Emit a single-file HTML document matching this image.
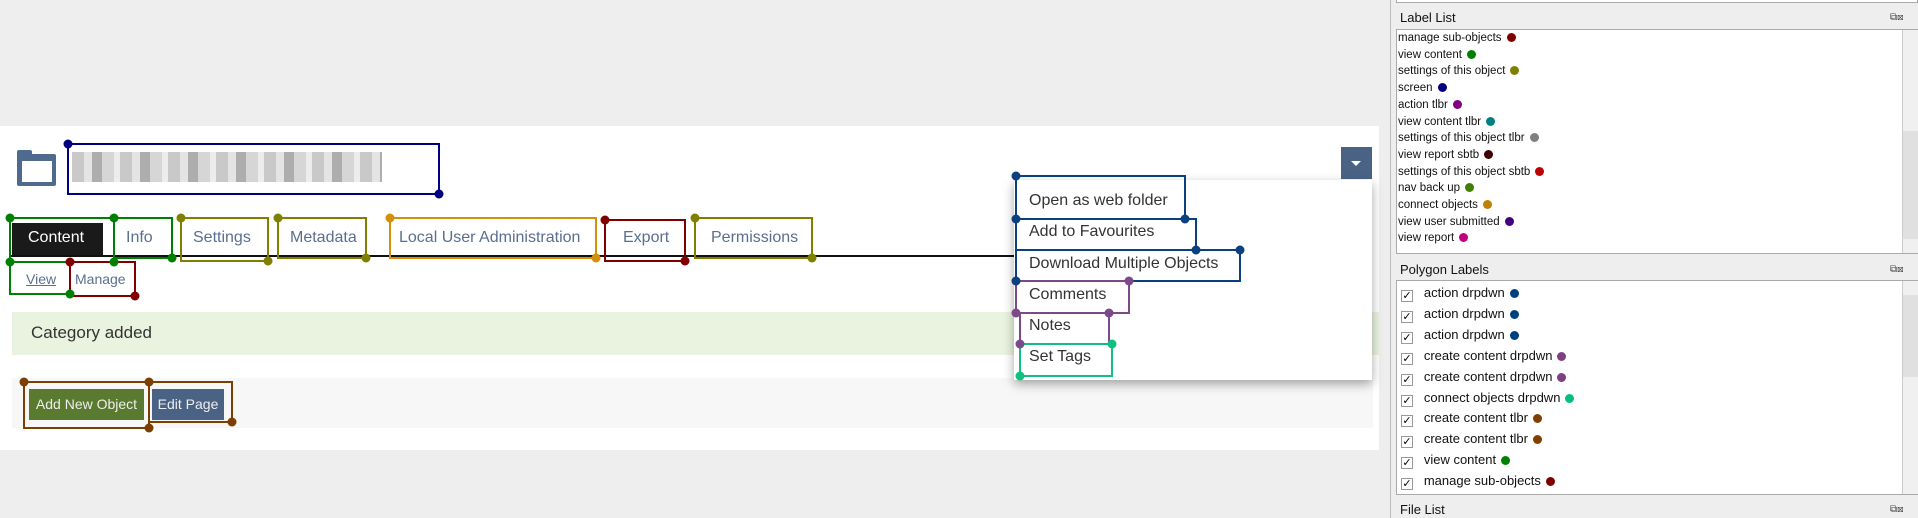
<!DOCTYPE html>
<html><head><meta charset="utf-8"><style>
*{margin:0;padding:0;box-sizing:border-box}
body{width:1918px;height:518px;background:#eeeeee;position:relative;overflow:hidden;font-family:"Liberation Sans",sans-serif}
.a{position:absolute;white-space:nowrap}
.tab{font-size:16px;color:#5a6f90}
.dd{font-size:16px;color:#333}
.ll{font-size:11.5px;color:#111;line-height:16.7px}
.pl{font-size:13px;color:#111}
.dot{display:inline-block;width:9px;height:9px;border-radius:50%;margin-left:5px;vertical-align:-1px}
.cb{position:absolute;width:12px;height:12px;border:1px solid #999;background:#fff;font-size:11px;line-height:10px;text-align:center;color:#000}
</style></head><body>
<div class="a" style="left:0;top:126px;width:1379px;height:324px;background:#fff"></div>
<div class="a" style="left:17px;top:150px;width:15px;height:6px;background:#4f6a8f;border-radius:2px 2px 0 0"></div>
<div class="a" style="left:17px;top:154px;width:39px;height:32px;background:#4f6a8f;border-radius:2px"></div>
<div class="a" style="left:22px;top:161px;width:30px;height:21px;background:#fff"></div>
<div class="a" style="left:72px;top:152px;width:310px;height:30px;background:repeating-linear-gradient(90deg,#bbb 0 12px,#ddd 12px 20px,#999 20px 30px,#ccc 30px 42px,#e8e8e8 42px 48px);opacity:.8"></div>
<div class="a" style="left:1341px;top:147px;width:31px;height:32px;background:#4a6385"></div>
<div class="a" style="left:1351px;top:161px;width:0;height:0;border-left:5px solid transparent;border-right:5px solid transparent;border-top:5px solid #fff"></div>
<div class="a" style="left:12px;top:223px;width:91px;height:33px;background:#1a1a1a"></div>
<div class="a" style="left:10px;top:255px;width:1006px;height:2px;background:#111"></div>
<div class="a tab" style="left:28px;top:229px;color:#fff">Content</div>
<div class="a tab" style="left:126px;top:229px">Info</div>
<div class="a tab" style="left:193px;top:229px">Settings</div>
<div class="a tab" style="left:290px;top:229px">Metadata</div>
<div class="a tab" style="left:399px;top:229px">Local User Administration</div>
<div class="a tab" style="left:623px;top:229px">Export</div>
<div class="a tab" style="left:711px;top:229px">Permissions</div>
<div class="a" style="left:26px;top:271px;font-size:14px;color:#5a6f90;text-decoration:underline">View</div>
<div class="a" style="left:75px;top:271px;font-size:14px;color:#5a6f90">Manage</div>
<div class="a" style="left:12px;top:312px;width:1367px;height:43px;background:#eaf3e0"></div>
<div class="a" style="left:31px;top:323px;font-size:17px;color:#333">Category added</div>
<div class="a" style="left:12px;top:378px;width:1361px;height:50px;background:#f7f7f7"></div>
<div class="a" style="left:29px;top:389px;width:115px;height:31px;background:#5a7a30;color:#eee;font-size:14px;line-height:31px;text-align:center">Add New Object</div>
<div class="a" style="left:152px;top:389px;width:72px;height:31px;background:#4a6385;color:#eee;font-size:14px;line-height:31px;text-align:center">Edit Page</div>
<div class="a" style="left:1014px;top:180px;width:358px;height:200px;background:#fff;box-shadow:0 4px 10px rgba(0,0,0,.35)"></div>
<div class="a dd" style="left:1029px;top:192px">Open as web folder</div>
<div class="a dd" style="left:1029px;top:223px">Add to Favourites</div>
<div class="a dd" style="left:1029px;top:255px">Download Multiple Objects</div>
<div class="a dd" style="left:1029px;top:286px">Comments</div>
<div class="a dd" style="left:1029px;top:317px">Notes</div>
<div class="a dd" style="left:1029px;top:348px">Set Tags</div>
<svg class="a" style="left:0;top:0" width="1918" height="518">
<g fill="none" stroke-width="2">
<rect x="68" y="144" width="371" height="50" stroke="#000080"/>
<rect x="10" y="218" width="104" height="44" stroke="#008000"/>
<rect x="114" y="218" width="58" height="40" stroke="#008000"/>
<rect x="181" y="218" width="87" height="43" stroke="#808000"/>
<rect x="278" y="218" width="88" height="40" stroke="#808000"/>
<rect x="390" y="218" width="206" height="40" stroke="#d4900a"/>
<rect x="605" y="220" width="80" height="41" stroke="#800000"/>
<rect x="695" y="218" width="117" height="40" stroke="#808000"/>
<rect x="10" y="262" width="60" height="32" stroke="#008000"/>
<rect x="70" y="262" width="65" height="34" stroke="#800000"/>
<rect x="24" y="382" width="125" height="46" stroke="#7b3f00"/>
<rect x="149" y="382" width="83" height="40" stroke="#7b3f00"/>
<rect x="1016" y="176" width="169" height="43" stroke="#0a4080"/>
<rect x="1016" y="219" width="180" height="31" stroke="#0a4080"/>
<rect x="1016" y="250" width="224" height="31" stroke="#0a4080"/>
<rect x="1016" y="281" width="113" height="32" stroke="#7b4a8a"/>
<rect x="1020" y="313" width="89" height="31" stroke="#7b4a8a"/>
<rect x="1020" y="344" width="92" height="32" stroke="#10c080"/>
</g>
<g>
<circle cx="68" cy="144" r="4.5" fill="#000080"/><circle cx="439" cy="194" r="4.5" fill="#000080"/>
<circle cx="10" cy="218" r="4.5" fill="#008000"/><circle cx="114" cy="262" r="4.5" fill="#008000"/>
<circle cx="114" cy="218" r="4.5" fill="#008000"/><circle cx="172" cy="258" r="4.5" fill="#008000"/>
<circle cx="181" cy="218" r="4.5" fill="#808000"/><circle cx="268" cy="261" r="4.5" fill="#808000"/>
<circle cx="278" cy="218" r="4.5" fill="#808000"/><circle cx="366" cy="258" r="4.5" fill="#808000"/>
<circle cx="390" cy="218" r="4.5" fill="#d4900a"/><circle cx="596" cy="258" r="4.5" fill="#d4900a"/>
<circle cx="605" cy="220" r="4.5" fill="#800000"/><circle cx="685" cy="261" r="4.5" fill="#800000"/>
<circle cx="695" cy="218" r="4.5" fill="#808000"/><circle cx="812" cy="258" r="4.5" fill="#808000"/>
<circle cx="10" cy="262" r="4.5" fill="#008000"/><circle cx="70" cy="294" r="4.5" fill="#008000"/>
<circle cx="70" cy="262" r="4.5" fill="#800000"/><circle cx="135" cy="296" r="4.5" fill="#800000"/>
<circle cx="24" cy="382" r="4.5" fill="#7b3f00"/><circle cx="149" cy="428" r="4.5" fill="#7b3f00"/>
<circle cx="149" cy="382" r="4.5" fill="#7b3f00"/><circle cx="232" cy="422" r="4.5" fill="#7b3f00"/>
<circle cx="1016" cy="176" r="4.5" fill="#0a4080"/><circle cx="1185" cy="219" r="4.5" fill="#0a4080"/>
<circle cx="1016" cy="219" r="4.5" fill="#0a4080"/><circle cx="1196" cy="250" r="4.5" fill="#0a4080"/>
<circle cx="1240" cy="250" r="4.5" fill="#0a4080"/><circle cx="1016" cy="281" r="4.5" fill="#0a4080"/>
<circle cx="1129" cy="281" r="4.5" fill="#7b4a8a"/><circle cx="1016" cy="313" r="4.5" fill="#7b4a8a"/>
<circle cx="1109" cy="313" r="4.5" fill="#7b4a8a"/><circle cx="1020" cy="344" r="4.5" fill="#7b4a8a"/>
<circle cx="1112" cy="344" r="4.5" fill="#10c080"/><circle cx="1020" cy="376" r="4.5" fill="#10c080"/>
</g>
</svg>
<div class="a" style="left:1390px;top:0;width:1px;height:518px;background:#bbb"></div>
<div class="a" style="left:1396px;top:0;width:522px;height:3px;border:1px solid #aaa;border-top:none;background:#fff"></div>
<div class="a" style="left:1400px;top:10px;font-size:13px;color:#111">Label List</div>
<div class="a" style="left:1396px;top:29px;width:522px;height:225px;background:#fff;border:1px solid #aaa;overflow:hidden"></div>
<div class="a" style="left:1902px;top:30px;width:16px;height:223px;background:#f0f0f0;border-left:1px solid #ccc"></div>
<div class="a" style="left:1903px;top:131px;width:15px;height:108px;background:#e0e0e0"></div>
<div class="a ll" style="left:1398px;top:30px">
<div>manage sub-objects<span class="dot" style="background:#800000"></span></div>
<div>view content<span class="dot" style="background:#008000"></span></div>
<div>settings of this object<span class="dot" style="background:#808000"></span></div>
<div>screen<span class="dot" style="background:#000080"></span></div>
<div>action tlbr<span class="dot" style="background:#800080"></span></div>
<div>view content tlbr<span class="dot" style="background:#008080"></span></div>
<div>settings of this object tlbr<span class="dot" style="background:#808080"></span></div>
<div>view report sbtb<span class="dot" style="background:#400000"></span></div>
<div>settings of this object sbtb<span class="dot" style="background:#c00000"></span></div>
<div>nav back up<span class="dot" style="background:#408000"></span></div>
<div>connect objects<span class="dot" style="background:#c08000"></span></div>
<div>view user submitted<span class="dot" style="background:#400080"></span></div>
<div>view report<span class="dot" style="background:#c00080"></span></div>
</div>
<div class="a" style="left:1400px;top:262px;font-size:13px;color:#111">Polygon Labels</div>
<div class="a" style="left:1396px;top:280px;width:522px;height:215px;background:#fff;border:1px solid #aaa"></div>
<div class="a" style="left:1902px;top:281px;width:16px;height:213px;background:#f0f0f0;border-left:1px solid #ccc"></div>
<div class="a" style="left:1903px;top:295px;width:15px;height:82px;background:#e0e0e0"></div>
<div class="a pl" style="left:1401px;top:283px;line-height:20.9px">
<div><span class="cb" style="position:relative;display:inline-block;top:2px">✓</span>&nbsp;&nbsp; action drpdwn<span class="dot" style="background:#004080"></span></div>
<div><span class="cb" style="position:relative;display:inline-block;top:2px">✓</span>&nbsp;&nbsp; action drpdwn<span class="dot" style="background:#004080"></span></div>
<div><span class="cb" style="position:relative;display:inline-block;top:2px">✓</span>&nbsp;&nbsp; action drpdwn<span class="dot" style="background:#004080"></span></div>
<div><span class="cb" style="position:relative;display:inline-block;top:2px">✓</span>&nbsp;&nbsp; create content drpdwn<span class="dot" style="background:#804080"></span></div>
<div><span class="cb" style="position:relative;display:inline-block;top:2px">✓</span>&nbsp;&nbsp; create content drpdwn<span class="dot" style="background:#804080"></span></div>
<div><span class="cb" style="position:relative;display:inline-block;top:2px">✓</span>&nbsp;&nbsp; connect objects drpdwn<span class="dot" style="background:#00c080"></span></div>
<div><span class="cb" style="position:relative;display:inline-block;top:2px">✓</span>&nbsp;&nbsp; create content tlbr<span class="dot" style="background:#804000"></span></div>
<div><span class="cb" style="position:relative;display:inline-block;top:2px">✓</span>&nbsp;&nbsp; create content tlbr<span class="dot" style="background:#804000"></span></div>
<div><span class="cb" style="position:relative;display:inline-block;top:2px">✓</span>&nbsp;&nbsp; view content<span class="dot" style="background:#008000"></span></div>
<div><span class="cb" style="position:relative;display:inline-block;top:2px">✓</span>&nbsp;&nbsp; manage sub-objects<span class="dot" style="background:#800000"></span></div>
</div>
<div class="a" style="left:1400px;top:502px;font-size:13px;color:#111">File List</div>
<div class="a" style="left:1890px;top:12px;font-size:10px;color:#444">⧉⊠</div>
<div class="a" style="left:1890px;top:264px;font-size:10px;color:#444">⧉⊠</div>
<div class="a" style="left:1890px;top:504px;font-size:10px;color:#444">⧉⊠</div>
</body></html>
